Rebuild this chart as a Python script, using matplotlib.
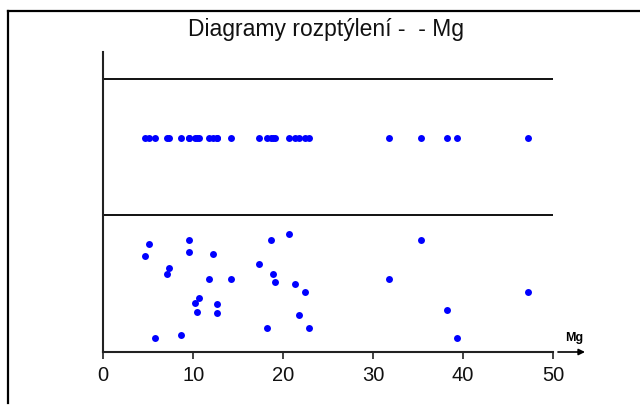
import matplotlib
matplotlib.use("Agg")
import matplotlib.pyplot as plt
from matplotlib.lines import Line2D

plt.rcParams['font.family'] = ['Liberation Sans', 'DejaVu Sans']

title = "Diagramy rozptýlení -  - Mg"
var_name = "Mg"
mg = [5.08, 4.64, 9.53, 9.53, 12.24, 7.31, 7.05, 11.76, 14.24, 18.65, 20.69,
      17.35, 18.84, 19.13, 21.32, 22.47, 10.65, 10.20, 12.61, 12.61, 10.42,
      21.77, 18.24, 22.88, 5.75, 8.61, 35.37, 31.81, 47.21, 38.23, 39.35]
jitter = [107.7, 96, 111.7, 99.7, 97.7, 84.3, 77.7, 73.3, 73.3, 111.7, 117.7,
          87.7, 77.7, 69.7, 67.7, 59.7, 53.7, 49.3, 48, 39.3, 39.7,
          37.3, 23.7, 23.7, 13.7, 17.3, 111.7, 73.3, 59.7, 41.7, 13.7]
dot_row = 214
strip_lines = [137, 273]
xticks = [0, 10, 20, 30, 40, 50]

W, H = 640, 405
fig = plt.figure(figsize=(W / 100, H / 100), dpi=100)
fig.patch.set_facecolor('white')

# outer frame (left and top visible, right/bottom off canvas)
fig.add_artist(Line2D([8 / W, 8 / W], [1 - 11 / H, 2 / H], color='black', lw=1.6))
fig.add_artist(Line2D([8 / W, 1], [1 - 11 / H, 1 - 11 / H], color='black', lw=1.6))

ax = fig.add_axes([103.3 / W, (H - 352) / H, 449.7 / W, 300 / H])
ax.set_xlim(0, 50)
ax.set_ylim(0, 300)
ax.patch.set_visible(False)
for s in ['top', 'right']:
    ax.spines[s].set_visible(False)
for s in ['left', 'bottom']:
    ax.spines[s].set_color('#222222')
    ax.spines[s].set_linewidth(1.5)

for yv in strip_lines:
    ax.plot([0, 50], [yv, yv], color='#111111', lw=1.4, solid_capstyle='butt')

ax.plot(mg, [dot_row] * len(mg), 'o', color='#0000ff', markersize=5.0,
        markeredgewidth=0, clip_on=False)
ax.plot(mg, jitter, 'o', color='#0000ff', markersize=5.0,
        markeredgewidth=0, clip_on=False)

ax.set_xticks(xticks)
ax.set_xticklabels([str(t) for t in xticks])
ax.set_yticks([])
ax.tick_params(axis='x', direction='out', length=5, width=1.2, color='#222222',
               labelsize=14.5, pad=5, labelcolor='#111111')

# arrow after axis end
ax.annotate('', xy=(585 / W, (H - 352) / H), xytext=(558 / W, (H - 352) / H),
            xycoords='figure fraction', textcoords='figure fraction',
            arrowprops=dict(arrowstyle='-|>', color='black', lw=1.2,
                            mutation_scale=9, shrinkA=0, shrinkB=0))
fig.text(574 / W, 1 - 338 / H, var_name, ha='center', va='center',
         fontsize=9, fontweight='bold', color='black')

fig.text(326 / W, 1 - 36 / H, title, ha='center', va='baseline',
         fontsize=16.5, color='#111111')

fig.savefig('out.png', dpi=100)
